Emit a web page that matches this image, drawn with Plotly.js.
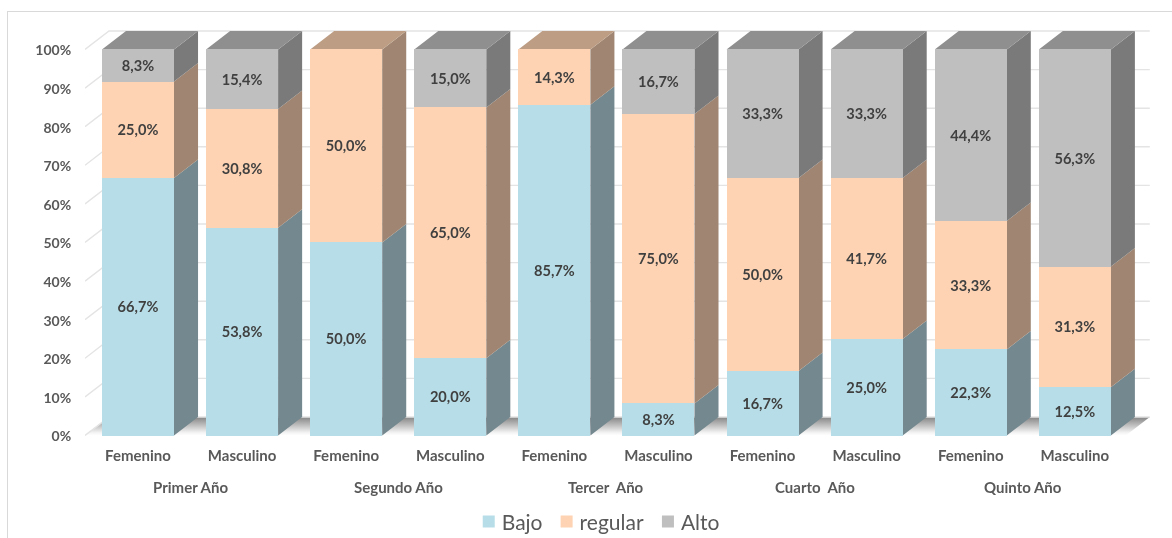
<!DOCTYPE html>
<html>
<head>
<meta charset="utf-8">
<script src="https://cdn.plot.ly/plotly-3.0.1.min.js"></script>
<style>
html,body{margin:0;padding:0;background:#fff;overflow:hidden}
#frame{position:absolute;left:7px;top:11px;right:0;bottom:0;border-left:1px solid #d9d9d9;border-top:1px solid #d9d9d9}
#chart{position:absolute;left:0;top:0;width:1172px;height:538px;filter:blur(0.4px)}
</style>
</head>
<body>
<div id="frame"></div>
<div id="chart"></div>
<script>
const sexes = ["Femenino","Masculino","Femenino","Masculino","Femenino","Masculino","Femenino","Masculino","Femenino","Masculino"];
const years = ["Primer Año","Segundo Año","Tercer\u00a0\u00a0Año","Cuarto\u00a0\u00a0Año","Quinto Año"];
const bajo    = [66.7,53.8,50.0,20.0,85.7, 8.3,16.7,25.0,22.3,12.5];
const regular = [25.0,30.8,50.0,65.0,14.3,75.0,50.0,41.7,33.3,31.3];
const alto    = [ 8.3,15.4, 0.0,15.0, 0.0,16.7,33.3,33.3,44.4,56.3];
const seriesNames = ["Bajo","regular","Alto"];
const seriesValues = [bajo,regular,alto];
const frontColors = ["#b7dee8","#fdd3b3","#bfbfbf"];
const sideColors  = ["#74888f","#a08672","#7a7a7a"];
const topColors   = ["#8f9fa5","#bd9e85","#8f8f8f"];
const yTicks = [0,10,20,30,40,50,60,70,80,90,100];
const yTickLabels = ["0%","10%","20%","30%","40%","50%","60%","70%","80%","90%","100%"];

const barWidth = 0.692, depthX = 0.2308, depthY = 4.79;
const xRange = [-0.5091, 9.770];
const yRange = [-0.13, 107.64];
const gridLeft = -0.5091, gridRight = 9.72;
const idx = sexes.map((_, i) => i);
const fmt = v => v > 0 ? v.toFixed(1).replace(".", ",") + "%" : "";
const traces = [];

// floor
traces.push({
  x:[gridLeft,gridLeft+depthX,gridRight,gridRight-depthX,gridLeft],
  y:[0,depthY,depthY,0,0],
  mode:"lines",line:{width:0},fill:"toself",showlegend:false,hoverinfo:"skip",
  fillgradient:{type:"vertical",colorscale:[[0,"#ffffff"],[0.15,"#f4f4f4"],[1,"#858585"]]}
});
// back-wall gridlines
const gx=[],gy=[];
yTicks.forEach(v=>{gx.push(gridLeft,gridLeft+depthX,gridRight,null);gy.push(v,v+depthY,v+depthY,null);});
traces.push({x:gx,y:gy,mode:"lines",line:{color:"#e4e4e4",width:1.4},showlegend:false,hoverinfo:"skip"});

// side and top faces, computed from the stacked values
const sx=[[],[],[]], sy=[[],[],[]], tx=[[],[],[]], ty=[[],[],[]];
idx.forEach(i=>{
  const total = seriesValues.reduce((a,s)=>a+s[i],0);
  let acc = 0, last = 0;
  seriesValues.forEach((s,k)=>{
    if(s[i]<=0) return;
    const lo = acc/total*100, hi = (acc+s[i])/total*100;
    const xr = i+barWidth/2;
    sx[k].push(xr,xr+depthX,xr+depthX,xr,xr,null);
    sy[k].push(lo,lo+depthY,hi+depthY,hi,lo,null);
    acc += s[i]; last = k;
  });
  const xl = i-barWidth/2, xr = i+barWidth/2;
  tx[last].push(xl,xr,xr+depthX,xl+depthX,xl,null);
  ty[last].push(100,100,100+depthY,100+depthY,100,null);
});
[0,1,2].forEach(k=>{
  traces.push({x:sx[k],y:sy[k],mode:"lines",line:{width:0},fill:"toself",fillcolor:sideColors[k],showlegend:false,hoverinfo:"skip"});
  traces.push({x:tx[k],y:ty[k],mode:"lines",line:{width:0},fill:"toself",fillcolor:topColors[k],showlegend:false,hoverinfo:"skip"});
});

// front faces
seriesValues.forEach((s,k)=>{
  traces.push({
    type:"bar",xaxis:"x2",yaxis:"y2",name:seriesNames[k],x:idx,y:s,width:barWidth,
    marker:{color:frontColors[k],line:{width:0}},
    text:s.map(fmt),textposition:"inside",insidetextanchor:"middle",textangle:0,constraintext:"none",
    insidetextfont:{family:"Lato, sans-serif",size:14.6,weight:700,color:"#404040"},
    hoverinfo:"skip"
  });
});

const annotations = years.map((t,g)=>({
  text:t,xref:"x",yref:"paper",x:2*g+0.5,y:0,yshift:-51,yanchor:"middle",xanchor:"center",showarrow:false,
  font:{family:"Lato, sans-serif",size:15,weight:700,color:"#595959"}
}));

const tickFont = {family:"Lato, sans-serif",size:15,weight:700,color:"#595959"};
const yTickFont = {family:"Lato, sans-serif",size:14,weight:700,color:"#595959"};
const layout = {
  width:1172,height:538,
  margin:{l:85,r:17,t:20,b:102,pad:0},
  paper_bgcolor:"rgba(0,0,0,0)",plot_bgcolor:"rgba(0,0,0,0)",
  barmode:"stack",barnorm:"percent",
  xaxis:{range:xRange,tickmode:"array",tickvals:idx,ticktext:sexes,showgrid:false,zeroline:false,showline:false,
    ticks:"outside",ticklen:6,tickcolor:"rgba(0,0,0,0)",tickfont:tickFont,fixedrange:true},
  yaxis:{range:yRange,tickmode:"array",tickvals:yTicks,ticktext:yTickLabels,showgrid:false,zeroline:false,showline:false,
    ticks:"outside",ticklen:10,tickcolor:"rgba(0,0,0,0)",tickfont:yTickFont,ticklabelshift:1,fixedrange:true},
  xaxis2:{range:xRange,overlaying:"x",visible:false,fixedrange:true},
  yaxis2:{range:yRange,overlaying:"y",visible:false,fixedrange:true},
  legend:{orientation:"h",traceorder:"normal",xref:"container",yref:"container",x:0.513,xanchor:"center",y:0.03,yanchor:"middle",
    font:{family:"Lato, sans-serif",size:21,color:"#595959"},bgcolor:"rgba(0,0,0,0)"},
  annotations:annotations,
  showlegend:true
};
// tighter legend spacing than the library's default
const entryPull = 8, symbolPush = 7;
Plotly.newPlot("chart",traces,layout,{displayModeBar:false,staticPlot:true}).then(()=>{
  document.querySelectorAll("#chart .legend .traces").forEach((g,i)=>{
    const m = /translate\(\s*([-\d.]+)[ ,]+([-\d.]+)/.exec(g.getAttribute("transform")||"");
    if(m) g.setAttribute("transform","translate("+(parseFloat(m[1])-entryPull*i)+","+m[2]+")");
    const s = g.querySelector(".legendsymbols");
    if(s) s.setAttribute("transform","translate("+symbolPush+",0)");
  });
});
</script>
</body>
</html>
